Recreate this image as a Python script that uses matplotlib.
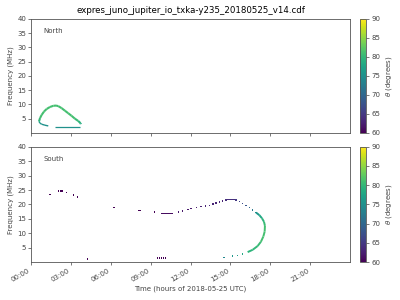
import matplotlib
matplotlib.use("Agg")
import matplotlib.pyplot as plt
import numpy as np
from matplotlib.collections import LineCollection
from matplotlib.colors import Normalize

# ---------------- data ----------------
# North hemisphere: continuous branches (time in hours, freq MHz, theta deg)
north_upper_t = [0.60, 0.68, 0.80, 0.98, 1.18, 1.43, 1.68, 1.88, 2.05, 2.30, 2.55, 2.80, 3.05, 3.30, 3.55, 3.73, 3.75]
north_upper_f = [4.0, 5.2, 6.3, 7.5, 8.4, 9.1, 9.5, 9.6, 9.4, 8.7, 7.8, 6.9, 6.0, 5.0, 4.2, 3.4, 3.05]
north_upper_th = [79, 81, 81, 81, 81, 81, 81, 81, 81, 81, 81, 81, 81, 81, 80, 79, 78]

north_lower_t = [0.60, 0.68, 0.80, 1.05, 1.30]
north_lower_f = [4.0, 3.4, 3.05, 2.7, 2.45]
north_lower_th = [77, 76, 75, 75, 75]

north_flat_t = [1.80, 3.70]
north_flat_f = [2.1, 2.1]
north_flat_th = [75, 75]

# South hemisphere: isolated dots
south_dot_t = [1.43, 2.08, 2.20, 2.33, 2.68, 3.18, 3.48, 4.23, 6.25, 8.10, 8.20, 9.30,
               9.50, 9.65, 9.80, 9.95, 10.10, 9.85, 10.00, 10.15, 10.30, 10.45, 10.60,
               11.10, 11.40, 11.80, 12.05, 12.43, 12.80, 13.13, 13.43, 13.68, 13.93,
               14.18, 14.43, 14.68, 14.83, 14.98, 15.13, 15.28,
               15.43, 15.68, 15.93, 16.18, 16.43, 16.68, 16.93,
               15.93, 15.55, 15.18, 14.48, 14.58]
south_dot_f = [23.5, 24.6, 24.6, 24.6, 24.2, 23.3, 22.6, 1.1, 19.0, 18.0, 18.0, 17.4,
               1.5, 1.5, 1.5, 1.5, 1.5, 16.9, 16.9, 16.9, 16.9, 16.9, 16.9,
               17.4, 17.7, 18.2, 18.5, 18.9, 19.2, 19.4, 19.7, 20.1, 20.5,
               20.9, 21.2, 21.6, 21.8, 21.8, 21.8, 21.8,
               21.6, 21.0, 20.4, 19.7, 18.9, 18.1, 17.2,
               2.9, 2.4, 2.1, 1.7, 1.7]
south_dot_th = [60, 60, 60, 60, 60, 60, 60, 60, 60, 60, 60, 60,
                60, 60, 60, 60, 60, 61, 61, 61, 61, 61, 61,
                62, 62, 62, 62, 62, 63, 63, 63, 63, 63,
                63, 63, 64, 64, 64, 64, 64,
                65, 66, 67, 68, 70, 72, 74,
                78, 77, 76, 74, 74]

# South hemisphere: continuous bulge
south_arc_t = [16.93, 17.18, 17.38, 17.53, 17.60, 17.58, 17.48, 17.30, 17.05, 16.68, 16.30]
south_arc_f = [17.2, 16.3, 15.2, 14.0, 12.6, 10.6, 8.9, 7.1, 5.6, 4.3, 3.5]
south_arc_th = [75, 77, 79, 80, 81, 81, 81, 81, 80, 80, 79]

hour_ticks = [0, 3, 6, 9, 12, 15, 18, 21]
hour_labels = ["00:00", "03:00", "06:00", "09:00", "12:00", "15:00", "18:00", "21:00"]
freq_ticks = [5, 10, 15, 20, 25, 30, 35, 40]
theta_ticks = [60, 65, 70, 75, 80, 85, 90]

# ---------------- plot ----------------
cmap = plt.get_cmap("viridis")
norm = Normalize(60, 90)
plt.rcParams["font.family"] = "DejaVu Sans"
fs = 5
gray = "#444444"

fig = plt.figure(figsize=(4, 3), dpi=100)
ax1 = fig.add_axes([0.0775, 0.557, 0.7975, 0.38])
ax2 = fig.add_axes([0.0775, 0.126, 0.7975, 0.385])
cax1 = fig.add_axes([0.9, 0.557, 0.016, 0.38])
cax2 = fig.add_axes([0.9, 0.126, 0.016, 0.385])


def add_branch(ax, t, f, th, lw):
    pts = np.column_stack([t, f]).reshape(-1, 1, 2)
    segs = np.concatenate([pts[:-1], pts[1:]], axis=1)
    vals = 0.5 * (np.array(th[:-1], float) + np.array(th[1:], float))
    lc = LineCollection(segs, cmap=cmap, norm=norm, linewidths=lw, capstyle="butt")
    lc.set_array(vals)
    ax.add_collection(lc)


add_branch(ax1, north_upper_t, north_upper_f, north_upper_th, 1.5)
add_branch(ax1, north_lower_t, north_lower_f, north_lower_th, 1.0)
add_branch(ax1, north_flat_t, north_flat_f, north_flat_th, 0.9)

ax2.scatter(south_dot_t, south_dot_f, c=south_dot_th, cmap=cmap, norm=norm,
            marker="s", s=1.0, linewidths=0)
add_branch(ax2, south_arc_t, south_arc_f, south_arc_th, 1.4)

for ax, name in [(ax1, "North"), (ax2, "South")]:
    ax.set_xlim(0, 24)
    ax.set_ylim(0, 40)
    ax.set_xticks(hour_ticks)
    ax.set_yticks(freq_ticks)
    ax.set_ylabel("Frequency (MHz)", fontsize=fs, color=gray, labelpad=2)
    ax.tick_params(labelsize=fs, length=2, width=0.5, pad=1.5, colors=gray)
    for sp in ax.spines.values():
        sp.set_linewidth(0.6)
        sp.set_color("#555555")
    ax.text(0.04, 0.92, name, transform=ax.transAxes, fontsize=fs, color=gray,
            va="top", ha="left")

ax1.set_xticklabels([])
ax2.set_xticklabels(hour_labels, rotation=30, ha="right")
ax2.set_xlabel("Time (hours of 2018-05-25 UTC)", fontsize=fs, color=gray, labelpad=2)
ax1.set_title("expres_juno_jupiter_io_txka-y235_20180525_v14.cdf", fontsize=6.2, pad=4)

sm = plt.cm.ScalarMappable(norm=norm, cmap=cmap)
for cax in (cax1, cax2):
    cb = fig.colorbar(sm, cax=cax, ticks=theta_ticks)
    cb.ax.tick_params(labelsize=fs, length=2, width=0.5, pad=1.5, colors=gray)
    cb.outline.set_linewidth(0.6)
    cb.outline.set_edgecolor("#555555")
    cb.set_label(r"$\theta$ (degrees)", fontsize=fs, color=gray, labelpad=3)

fig.savefig("out.png", dpi=100)
